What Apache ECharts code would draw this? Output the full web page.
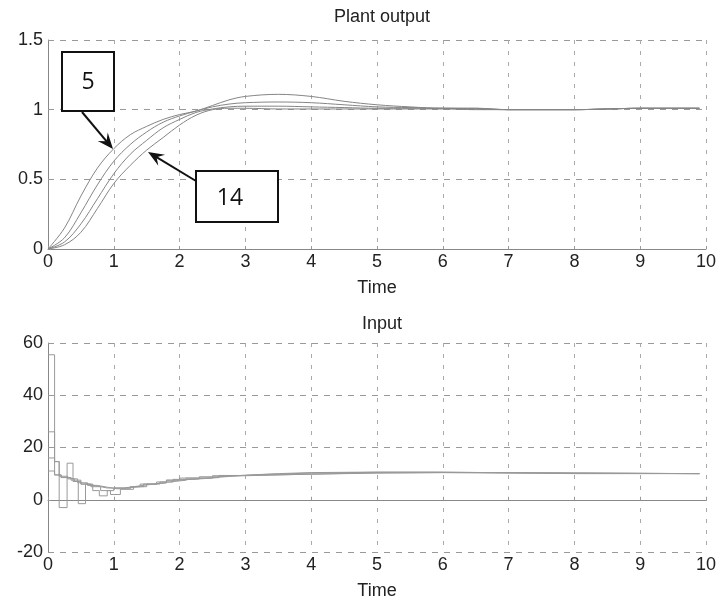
<!DOCTYPE html>
<html>
<head>
<meta charset="utf-8">
<title>Plant output / Input</title>
<script src="https://cdn.jsdelivr.net/npm/echarts@6/dist/echarts.min.js"></script>
<style>
  html, body { margin: 0; padding: 0; background: #fff; }
  #chart { width: 719px; height: 605px; }
</style>
</head>
<body>
<div id="chart"></div>
<script>
// plant output, four responses sampled on the same time grid
const timeOut = [0, 0.25, 0.5, 0.75, 1, 1.25, 1.5, 1.75, 2, 2.25, 2.5, 2.75, 3, 3.5, 4, 4.5, 5, 5.5, 6, 6.5, 7, 7.5, 8, 8.5, 9, 9.5, 9.9]
const outA = [0, 0.15, 0.38, 0.58, 0.72, 0.82, 0.88, 0.93, 0.965, 0.99, 1.03, 1.07, 1.095, 1.11, 1.095, 1.06, 1.035, 1.02, 1.01, 1.01, 1.0, 1.0, 1.0, 1.005, 1.01, 1.01, 1.01]
const outB = [0, 0.08, 0.26, 0.46, 0.63, 0.75, 0.84, 0.91, 0.955, 0.99, 1.02, 1.04, 1.05, 1.055, 1.05, 1.035, 1.02, 1.015, 1.01, 1.01, 1.0, 1.0, 1.0, 1.005, 1.01, 1.01, 1.01]
const outC = [0, 0.05, 0.18, 0.36, 0.54, 0.68, 0.78, 0.87, 0.93, 0.98, 1.005, 1.02, 1.025, 1.025, 1.02, 1.015, 1.01, 1.01, 1.01, 1.005, 1.0, 1.0, 1.0, 1.005, 1.01, 1.01, 1.01]
const outD = [0, 0.03, 0.12, 0.29, 0.47, 0.6, 0.71, 0.8, 0.89, 0.96, 1.0, 1.01, 1.01, 1.005, 1.005, 1.005, 1.005, 1.005, 1.005, 1.0, 1.0, 1.0, 1.0, 1.005, 1.01, 1.01, 1.01]

// control input, zero-order hold (value holds until the next time)
const timeIn1 = [0, 0.1, 0.17, 0.29, 0.38, 0.46, 0.57, 0.68, 0.78, 0.9, 1.0, 1.15, 1.3, 1.45, 1.6, 1.8, 2.0, 2.3, 2.6, 3.0, 3.5, 4.0, 5.0, 5.9, 7.0, 8.0, 9.9]
const input1 = [55.5, 14.6, -3, 14, 7, -1.5, 6, 3.5, 1.5, 3.5, 4.5, 5, 5.5, 6, 6.5, 7.5, 8, 8.8, 9.4, 10, 10.4, 10.6, 10.6, 10.3, 10, 10, 10]
const timeIn2 = [0, 0.1, 0.2, 0.3, 0.4, 0.5, 0.6, 0.7, 0.8, 0.9, 1.0, 1.2, 1.4, 1.6, 1.8, 2.0, 2.4, 2.8, 3.2, 4, 5, 6, 9.9]
const input2 = [26, 9.5, 8.5, 8, 7, 6, 5.5, 5, 4.5, 4.5, 4.5, 5, 6, 6.5, 7.5, 8.3, 9, 9.6, 10.2, 10.5, 10.5, 10, 10]
const timeIn3 = [0, 0.1, 0.17, 0.3, 0.45, 0.6, 0.75, 0.9, 1.05, 1.25, 1.45, 1.65, 1.85, 2.1, 2.5, 3, 4, 5, 6, 9.9]
const input3 = [16, 14.6, 9, 8, 6.5, 5.5, 4.8, 4.2, 4.2, 5, 6, 6.8, 7.5, 8.3, 9.2, 9.8, 10.3, 10.4, 10, 10]
const timeIn4 = [0, 0.1, 0.2, 0.35, 0.5, 0.65, 0.8, 0.95, 1.1, 1.3, 1.5, 1.7, 1.9, 2.2, 2.6, 3, 4, 5, 6, 9.9]
const input4 = [11, 9.5, 8.5, 7.5, 6, 5, 3.5, 2, 4, 5, 6, 6.8, 7.8, 8.5, 9.3, 9.8, 10.2, 10.4, 10, 10]

const zip = (xs, ys) => xs.map((x, i) => [x, ys[i]])

const chart = echarts.init(document.getElementById('chart'))

const font = 'Liberation Sans, Arial, sans-serif'

const xAxisBase = (gridIndex) => ({
  type: 'value',
  gridIndex,
  min: 0,
  max: 10,
  interval: 1,
  name: 'Time',
  nameLocation: 'middle',
  nameGap: 30,
  nameTextStyle: { color: '#222', fontSize: 18, fontFamily: font },
  axisLine: { show: true, lineStyle: { color: '#888', width: 1 } },
  axisTick: { show: true, inside: true, length: 3, lineStyle: { color: '#999' } },
  axisLabel: { color: '#222', fontSize: 18, fontFamily: font, margin: 4 },
  splitLine: { show: true, lineStyle: { color: '#aaa', type: [4, 7], width: 1 } },
})

const yAxisBase = (gridIndex, min, max, interval) => ({
  type: 'value',
  gridIndex,
  min,
  max,
  interval,
  axisLine: { show: true, lineStyle: { color: '#888', width: 1 } },
  axisTick: { show: true, inside: true, length: 3, lineStyle: { color: '#999' } },
  axisLabel: { color: '#222', fontSize: 18, fontFamily: font, margin: 5 },
  splitLine: { show: true, lineStyle: { color: '#999', type: [6, 6], width: 1 } },
})

const outLine = (data) => ({
  type: 'line',
  xAxisIndex: 0,
  yAxisIndex: 0,
  data,
  smooth: 0.35,
  showSymbol: false,
  lineStyle: { color: '#858585', width: 1 },
  silent: true,
})

const inLine = (data) => ({
  type: 'line',
  xAxisIndex: 1,
  yAxisIndex: 1,
  data,
  step: 'end',
  showSymbol: false,
  lineStyle: { color: '#999', width: 1 },
  silent: true,
})

// arrow from (x1,y1) to tip (x2,y2) with a barbed head
function arrow(x1, y1, x2, y2) {
  const dx = x2 - x1
  const dy = y2 - y1
  const len = Math.sqrt(dx * dx + dy * dy)
  const ux = dx / len
  const uy = dy / len
  const px = -uy
  const py = ux
  const bx = x2 - 16 * ux
  const by = y2 - 16 * uy
  return [
    {
      type: 'line',
      z: 100,
      shape: { x1, y1, x2: x2 - 8 * ux, y2: y2 - 8 * uy },
      style: { stroke: '#111', lineWidth: 2 },
    },
    {
      type: 'polygon',
      z: 100,
      shape: {
        points: [
          [x2, y2],
          [bx + 6.5 * px, by + 6.5 * py],
          [x2 - 10 * ux, y2 - 10 * uy],
          [bx - 6.5 * px, by - 6.5 * py],
        ],
      },
      style: { fill: '#111' },
    },
  ]
}

const option = {
  animation: false,
  backgroundColor: '#fff',
  title: [
    {
      text: 'Plant output',
      left: 377,
      textAlign: 'center',
      top: 3,
      textStyle: { color: '#222', fontSize: 18, fontWeight: 'normal', fontFamily: font },
    },
    {
      text: 'Input',
      left: 377,
      textAlign: 'center',
      top: 310,
      textStyle: { color: '#222', fontSize: 18, fontWeight: 'normal', fontFamily: font },
    },
  ],
  grid: [
    { left: 48, right: 13, top: 40, height: 209 },
    { left: 48, right: 13, top: 343, height: 209 },
  ],
  xAxis: [xAxisBase(0), xAxisBase(1)],
  yAxis: [yAxisBase(0, 0, 1.5, 0.5), yAxisBase(1, -20, 60, 20)],
  series: [
    outLine(zip(timeOut, outA)),
    outLine(zip(timeOut, outB)),
    outLine(zip(timeOut, outC)),
    outLine(zip(timeOut, outD)),
    inLine(zip(timeIn1, input1)),
    inLine(zip(timeIn2, input2)),
    inLine(zip(timeIn3, input3)),
    inLine(zip(timeIn4, input4)),
  ],
  graphic: [
    {
      type: 'rect',
      z: 100,
      shape: { x: 62, y: 52, width: 52, height: 59 },
      style: { fill: '#fff', stroke: '#111', lineWidth: 2 },
    },
    {
      type: 'text',
      z: 101,
      x: 88,
      y: 82,
      style: {
        text: '5',
        fill: '#111',
        font: '23px "Open Sans", "Noto Sans", sans-serif',
        align: 'center',
        verticalAlign: 'middle',
      },
    },
    {
      type: 'rect',
      z: 100,
      shape: { x: 196, y: 171, width: 82, height: 51 },
      style: { fill: '#fff', stroke: '#111', lineWidth: 2 },
    },
    {
      type: 'text',
      z: 101,
      x: 230,
      y: 198,
      style: {
        text: '14',
        fill: '#111',
        font: '23px "Open Sans", "Noto Sans", sans-serif',
        align: 'center',
        verticalAlign: 'middle',
      },
    },
    ...arrow(82, 112, 113, 149),
    ...arrow(196, 181, 148, 152),
  ],
}

chart.setOption(option)
</script>
</body>
</html>
